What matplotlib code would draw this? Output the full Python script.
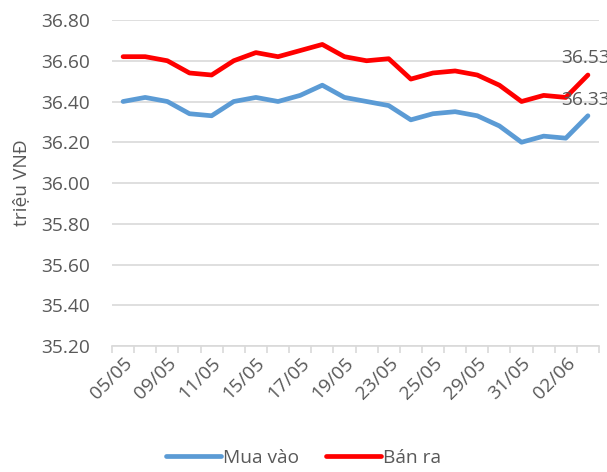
import matplotlib.pyplot as plt
import numpy as np

dates = ["05/05", "06/05", "09/05", "10/05", "11/05", "12/05", "15/05", "16/05",
         "17/05", "18/05", "19/05", "22/05", "23/05", "24/05", "25/05", "26/05",
         "29/05", "30/05", "31/05", "01/06", "02/06", "05/06"]
mua_vao = [36.40, 36.42, 36.40, 36.34, 36.33, 36.40, 36.42, 36.40, 36.43, 36.48, 36.42,
           36.40, 36.38, 36.31, 36.34, 36.35, 36.33, 36.28, 36.20, 36.23, 36.22, 36.33]
ban_ra = [36.62, 36.62, 36.60, 36.54, 36.53, 36.60, 36.64, 36.62, 36.65, 36.68, 36.62,
          36.60, 36.61, 36.51, 36.54, 36.55, 36.53, 36.48, 36.40, 36.43, 36.42, 36.53]
y_ticks = [35.20, 35.40, 35.60, 35.80, 36.00, 36.20, 36.40, 36.60, 36.80]

plt.rcParams['font.family'] = ['Open Sans', 'DejaVu Sans']
txt = '#595959'
fs = 13.8

fig = plt.figure(figsize=(6.07, 4.72), dpi=100)
ax = fig.add_axes([112/607, 1-346/472, 487/607, 326/472])

x = np.arange(len(dates))
ax.plot(x, mua_vao, color='#5B9BD5', lw=3.4, label='Mua vào', solid_capstyle='round')
ax.plot(x, ban_ra, color='#FF0000', lw=3.4, label='Bán ra', solid_capstyle='round')

ax.annotate(f"{ban_ra[-1]:.2f}", (x[-1], ban_ra[-1]), xytext=(-2, 6), textcoords='offset points',
            ha='center', va='bottom', fontsize=fs, color=txt, annotation_clip=False)
ax.annotate(f"{mua_vao[-1]:.2f}", (x[-1], mua_vao[-1]), xytext=(-2, 5), textcoords='offset points',
            ha='center', va='bottom', fontsize=fs, color=txt, annotation_clip=False)

ax.set_xlim(-0.5, len(dates) - 0.5)
ax.set_ylim(35.20, 36.80)
ax.set_yticks(y_ticks)
ax.set_yticklabels([f"{v:.2f}" for v in y_ticks])
ax.yaxis.grid(True, color='#D9D9D9', lw=1.2)
ax.set_axisbelow(True)

ax.set_xticks(x[::2])
ax.set_xticklabels(dates[::2], rotation=45, ha='right', rotation_mode='anchor')
ax.set_xticks(np.arange(-0.5, len(dates)), minor=True)
ax.tick_params(axis='x', which='major', length=0, pad=6, labelsize=fs, labelcolor=txt)
ax.tick_params(axis='x', which='minor', length=5, width=1.2, color='#D9D9D9')
ax.tick_params(axis='y', length=0, pad=16, labelsize=fs, labelcolor=txt)

for s in ['top', 'right', 'left']:
    ax.spines[s].set_visible(False)
ax.spines['bottom'].set_color('#D9D9D9')
ax.spines['bottom'].set_linewidth(1.2)

ax.set_ylabel('triệu VNĐ', fontsize=fs, color=txt, labelpad=8)

fig.legend(loc='center', bbox_to_anchor=(0.5, 1-458/472), ncol=2, frameon=False,
           fontsize=fs, labelcolor=txt, handlelength=2.9, handletextpad=0.1, columnspacing=1.4)

fig.savefig('out.png', dpi=100)
